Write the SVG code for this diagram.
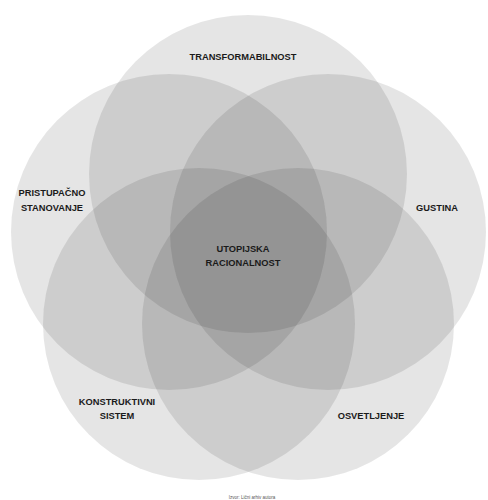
<svg xmlns="http://www.w3.org/2000/svg" width="488" height="500" viewBox="0 0 488 500">
<style>
.c{fill:#000;fill-opacity:0.1;stroke:none}
.t{font-family:"Liberation Sans",Arial,sans-serif;font-weight:bold;font-size:9.3px;fill:#1a1a1a;text-anchor:middle}
.f{font-family:"Liberation Sans",Arial,sans-serif;font-size:4.5px;fill:#555;text-anchor:middle}
</style>
<rect width="488" height="500" fill="#fff"/>
<g id="transformabilnost"><circle class="c" cx="248" cy="174" r="159"/><text class="t" x="243" y="60">TRANSFORMABILNOST</text></g>
<g id="gustina"><circle class="c" cx="328" cy="232" r="158"/><text class="t" x="437" y="211">GUSTINA</text></g>
<g id="pristupacno"><circle class="c" cx="169" cy="232" r="158"/><text class="t" x="52" y="196">PRISTUPAČNO</text><text class="t" x="52" y="211">STANOVANJE</text></g>
<g id="osvetljenje"><circle class="c" cx="298" cy="324" r="156"/><text class="t" x="371" y="419">OSVETLJENJE</text></g>
<g id="konstruktivni"><circle class="c" cx="199" cy="324" r="156"/><text class="t" x="117" y="405">KONSTRUKTIVNI</text><text class="t" x="117" y="419">SISTEM</text></g>
<g id="utopiska"><text class="t" x="243" y="252">UTOPIJSKA</text><text class="t" x="243" y="266">RACIONALNOST</text></g>
<g id="connectors"/>
<text class="f" x="252" y="499">Izvor: Lični arhiv autora</text>
</svg>
